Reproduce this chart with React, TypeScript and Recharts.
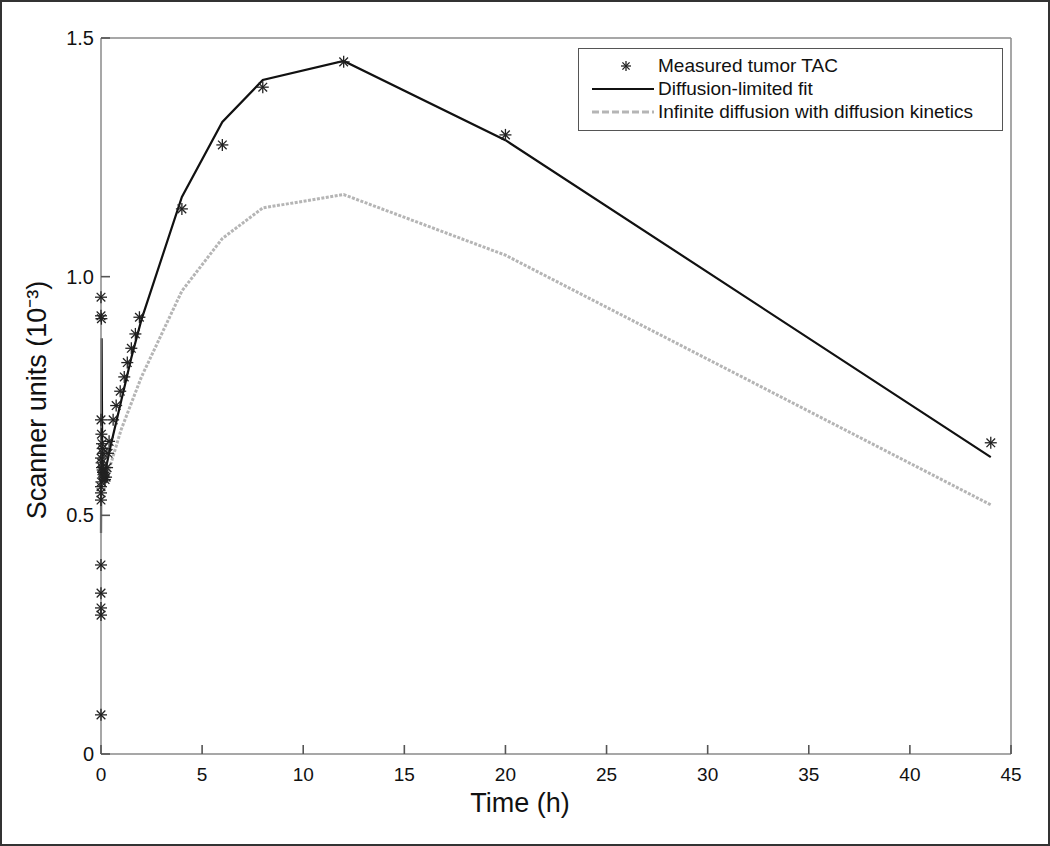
import React from "react";
import {
  ComposedChart,
  Line,
  Scatter,
  XAxis,
  YAxis,
  Legend,
} from "recharts";

const FONT = "Arial, 'Liberation Sans', Helvetica, sans-serif";

// measured tumor TAC (time in h, scanner units x1e-3)
const measuredT = [
  0, 0, 0.02, 0, 0.02, 0.05, 0.08, 0.1, 0, 0.03, 0.05, 0.08, 0.1, 0.12, 0.15, 0.2, 0.25, 0.3,
  0.35, 0.4, 0.02, 0, 0, 0, 0, 0, 0, 0, 0,
  0.6, 0.75, 0.95, 1.15, 1.3, 1.5, 1.7, 1.9,
  4, 6, 8, 12, 20, 44,
];
const measuredV = [
  0.957, 0.918, 0.912, 0.7, 0.67, 0.65, 0.64, 0.63, 0.62, 0.61, 0.6, 0.595, 0.59, 0.585, 0.58, 0.575, 0.58, 0.6,
  0.63, 0.655, 0.57, 0.56, 0.547, 0.532, 0.396, 0.337, 0.306, 0.291, 0.082,
  0.7, 0.73, 0.76, 0.79, 0.82, 0.85, 0.88, 0.915,
  1.142, 1.276, 1.397, 1.45, 1.297, 0.652,
];

// diffusion-limited fit
const fitT = [0, 0.03, 0.06, 0.15, 0.5, 1, 1.5, 2, 4, 6, 8, 12, 20, 44];
const fitV = [0.463, 0.871, 0.62, 0.58, 0.65, 0.74, 0.83, 0.91, 1.167, 1.324, 1.412, 1.452, 1.286, 0.622];

// infinite diffusion with diffusion kinetics
const infT = [0.2, 0.5, 1, 1.5, 2, 4, 6, 8, 12, 20, 44];
const infV = [0.57, 0.61, 0.68, 0.735, 0.79, 0.97, 1.08, 1.144, 1.172, 1.045, 0.522];

const xTicks = [0, 5, 10, 15, 20, 25, 30, 35, 40, 45];
const yTicks = [0, 0.5, 1, 1.5];
const yTickLabels = ["0", "0.5", "1.0", "1.5"];

const measured = measuredT.map((t, i) => ({ t, v: measuredV[i] }));
const fit = fitT.map((t, i) => ({ t, v: fitV[i] }));
const inf = infT.map((t, i) => ({ t, v: infV[i] }));

const AXIS = "#8a8a8a";
const TICK = "#555";

function Star({ cx, cy, r = 6 }: { cx?: number; cy?: number; r?: number }) {
  if (cx == null || cy == null) return null;
  const d = r * 0.72;
  return (
    <g stroke="#222" strokeWidth={1.3}>
      <line x1={cx - r} y1={cy} x2={cx + r} y2={cy} />
      <line x1={cx} y1={cy - r} x2={cx} y2={cy + r} />
      <line x1={cx - d} y1={cy - d} x2={cx + d} y2={cy + d} />
      <line x1={cx - d} y1={cy + d} x2={cx + d} y2={cy - d} />
    </g>
  );
}

// MATLAB-style ticks pointing into the plot box
const BottomTick = (p: any) => (
  <g>
    <line x1={p.x} y1={p.y} x2={p.x} y2={p.y - 9} stroke={TICK} strokeWidth={1.6} />
    <text x={p.x} y={p.y + 27} textAnchor="middle" fontSize={19} fontFamily={FONT} fill="#111">
      {p.payload.value}
    </text>
  </g>
);
const TopTick = (p: any) => (
  <line x1={p.x} y1={p.y} x2={p.x} y2={p.y + 9} stroke={TICK} strokeWidth={1.6} />
);
const LeftTick = (p: any) => (
  <g>
    <line x1={p.x} y1={p.y} x2={p.x + 9} y2={p.y} stroke={TICK} strokeWidth={1.6} />
    <text x={p.x - 7} y={p.y + 7} textAnchor="end" fontSize={20} fontFamily={FONT} fill="#111">
      {yTickLabels[yTicks.indexOf(p.payload.value)]}
    </text>
  </g>
);
const RightTick = (p: any) => (
  <line x1={p.x} y1={p.y} x2={p.x - 9} y2={p.y} stroke={TICK} strokeWidth={1.6} />
);

function LegendBox() {
  const row: React.CSSProperties = { display: "flex", alignItems: "center", height: 23 };
  const txt: React.CSSProperties = { fontSize: 19, marginLeft: 4, color: "#111", whiteSpace: "nowrap" };
  return (
    <div
      style={{
        width: 425,
        height: 83,
        border: "1px solid #555",
        background: "#fff",
        fontFamily: FONT,
        padding: "5px 0 0 13px",
        boxSizing: "border-box",
      }}
    >
      <div style={row}>
        <svg width={62} height={20}>
          <Star cx={34} cy={10} r={5} />
        </svg>
        <span style={txt}>Measured tumor TAC</span>
      </div>
      <div style={row}>
        <svg width={62} height={20}>
          <line x1={0} y1={10} x2={62} y2={10} stroke="#111" strokeWidth={2} />
        </svg>
        <span style={txt}>Diffusion-limited fit</span>
      </div>
      <div style={row}>
        <svg width={62} height={20}>
          <line x1={0} y1={10} x2={62} y2={10} stroke="#b5b5b5" strokeWidth={3} strokeDasharray="7 3" />
        </svg>
        <span style={txt}>Infinite diffusion with diffusion kinetics</span>
      </div>
    </div>
  );
}

export default function App() {
  return (
    <div style={{ position: "relative", width: 1050, height: 846, background: "#fff" }}>
      <style>{`body{margin:0}`}</style>
      <ComposedChart
        width={1050}
        height={846}
        margin={{ top: 37, right: 38, bottom: 62, left: 60 }}
      >
        <XAxis
          xAxisId="b"
          dataKey="t"
          type="number"
          domain={[0, 45]}
          ticks={xTicks}
          tickSize={0}
          tickMargin={0}
          tickLine={false}
          tick={BottomTick}
          axisLine={{ stroke: AXIS, strokeWidth: 1.5 }}
          height={30}
          label={{
            content: () => (
              <text x={520} y={812} textAnchor="middle" fontSize={27} fontFamily={FONT} fill="#111">
                Time (h)
              </text>
            ),
          }}
        />
        <XAxis
          xAxisId="top"
          orientation="top"
          type="number"
          domain={[0, 45]}
          ticks={xTicks}
          tickSize={0}
          tickMargin={0}
          tickLine={false}
          tick={TopTick}
          axisLine={{ stroke: AXIS, strokeWidth: 1.5 }}
          height={1}
        />
        <YAxis
          yAxisId="l"
          type="number"
          domain={[0, 1.5]}
          ticks={yTicks}
          tickSize={0}
          tickMargin={0}
          tickLine={false}
          tick={LeftTick}
          axisLine={{ stroke: AXIS, strokeWidth: 1.5 }}
          width={41}
          label={{
            content: () => (
              <text
                x={46}
                y={400}
                transform="rotate(-90 46 400)"
                textAnchor="middle"
                fontSize={27}
                fontFamily={FONT}
                fill="#111"
              >
                Scanner units (10⁻³)
              </text>
            ),
          }}
        />
        <YAxis
          yAxisId="r"
          orientation="right"
          type="number"
          domain={[0, 1.5]}
          ticks={yTicks}
          tickSize={0}
          tickMargin={0}
          tickLine={false}
          tick={RightTick}
          axisLine={{ stroke: AXIS, strokeWidth: 1.5 }}
          width={1}
        />
        <Legend
          layout="vertical"
          verticalAlign="middle"
          align="center"
          content={() => <LegendBox />}
          wrapperStyle={{ top: 48, left: 578, width: 425 }}
        />
        <Line
          xAxisId="b"
          yAxisId="l"
          data={inf}
          dataKey="v"
          type="linear"
          stroke="#b5b5b5"
          strokeWidth={3}
          strokeDasharray="3 1.5"
          dot={false}
          isAnimationActive={false}
        />
        <Line
          xAxisId="b"
          yAxisId="l"
          data={fit}
          dataKey="v"
          type="linear"
          stroke="#111"
          strokeWidth={2.2}
          dot={false}
          isAnimationActive={false}
        />
        <Scatter
          xAxisId="b"
          yAxisId="l"
          data={measured}
          dataKey="v"
          shape={(props: any) => <Star cx={props.cx} cy={props.cy} />}
          isAnimationActive={false}
        />
      </ComposedChart>
      <div
        style={{
          position: "absolute",
          inset: 0,
          border: "2px solid #333",
          pointerEvents: "none",
        }}
      />
    </div>
  );
}
